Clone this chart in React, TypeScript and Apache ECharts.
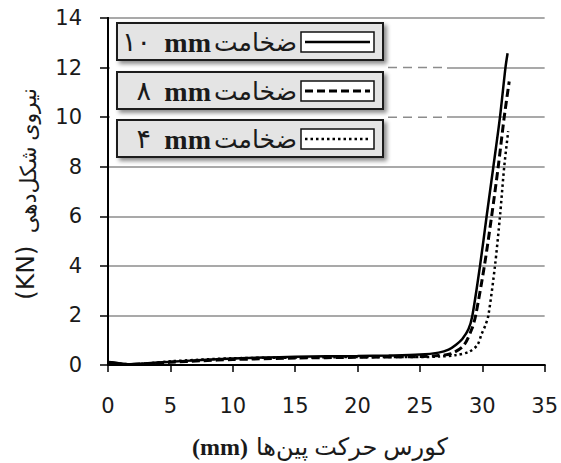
import React, { useEffect, useRef } from "react";
import * as echarts from "echarts";

// ---- data ----
const xTicks = [0, 5, 10, 15, 20, 25, 30, 35];
const yTicks = [0, 2, 4, 6, 8, 10, 12, 14];

const legendDigits = ["۱۰", "۸", "۴"]; // thickness, Persian digits
const legendWord = "ضخامت";
const legendUnit = "mm";
const xTitleFa = "کورس حرکت پین\u200cها";
const xTitleUnit = "(mm)";
const yTitleFa = "نیروی شکل\u200cدهی";
const yTitleUnit = "(KN)";

const thick10: number[][] = [
  [0, 0.12], [0.5, 0.1], [1.5, 0.03], [3, 0.06], [5, 0.13], [7.5, 0.2], [10, 0.26],
  [12.5, 0.3], [15, 0.33], [17.5, 0.35], [20, 0.36], [22.5, 0.38], [25, 0.42],
  [26.5, 0.5], [27.3, 0.62], [27.9, 0.82], [28.4, 1.05], [28.9, 1.45], [29.21, 2],
  [29.82, 4], [30.35, 6], [30.89, 8], [31.42, 10], [31.86, 12], [32.03, 12.58],
];

const thick8: number[][] = [
  [0, 0.1], [1.5, 0.02], [3, 0.05], [5, 0.11], [7.5, 0.17], [10, 0.22], [15, 0.28],
  [20, 0.31], [25, 0.34], [26.5, 0.38], [27.5, 0.46], [28.5, 0.78], [29.16, 1.45],
  [29.47, 2], [30.17, 4], [30.75, 6], [31.28, 8], [31.76, 10], [32.16, 11.44],
];

const thick4: number[][] = [
  [0, 0.08], [2, 0.03], [5, 0.15], [10, 0.27], [15, 0.3], [20, 0.32], [25, 0.32],
  [26.5, 0.34], [27.9, 0.4], [28.96, 0.54], [29.6, 0.8], [29.95, 1.25], [30.25, 1.6],
  [30.49, 2], [31.02, 4], [31.42, 6], [31.76, 8], [32.08, 9.43],
];

// ---- layout ----
const W = 561;
const H = 463;
const GRID_LEFT = 108;
const GRID_RIGHT = 15;
const GRID_TOP = 18;
const GRID_BOTTOM = 98;
const PLOT_H = H - GRID_TOP - GRID_BOTTOM;
const Y_MAX = 14;
const yPix = (v: number) => GRID_TOP + (1 - v / Y_MAX) * PLOT_H;

const NUM_FONT = "'DejaVu Sans', Verdana, sans-serif";
const FA_FONT = "'Liberation Serif', 'DejaVu Sans', serif";
const UNIT_FONT = "'Liberation Serif', 'Times New Roman', serif";
const TEXT_COLOR = "#1a1a1a";

const lineStyles = [
  { color: "#000", width: 2.5, type: "solid" as any },
  { color: "#000", width: 3, type: [8, 4] as any },
  { color: "#000", width: 2.5, type: [2.5, 3] as any },
];

export default function App() {
  const ref = useRef<HTMLDivElement>(null);

  useEffect(() => {
    if (!ref.current) return;
    const chart = echarts.init(ref.current, null, { renderer: "svg" });

    const legendTops = [23, 72, 120];
    const graphic: any[] = [
      {
        type: "rect",
        shape: { x: 110, y: 19.5, width: 337, height: 142 },
        style: { fill: "#fff" },
        z: 1,
      },
      ...[10, 12].map((v) => ({
        type: "line",
        shape: { x1: 388, y1: yPix(v), x2: 447, y2: yPix(v) },
        style: { stroke: "#8c8c8c", lineWidth: 1.5, lineDash: [9, 6] },
        z: 1,
      })),
      // x-axis title
      {
        type: "text",
        x: 448,
        y: 447,
        style: {
          text: xTitleFa,
          font: `24px ${FA_FONT}`,
          fill: TEXT_COLOR,
          align: "right",
          verticalAlign: "middle",
        },
        z: 5,
      },
      {
        type: "text",
        x: 248,
        y: 447,
        style: {
          text: xTitleUnit,
          font: `bold 24px ${UNIT_FONT}`,
          fill: TEXT_COLOR,
          align: "right",
          verticalAlign: "middle",
        },
        z: 5,
      },
      // y-axis title (rotated)
      {
        type: "text",
        x: 28,
        y: 88,
        rotation: Math.PI / 2,
        style: {
          text: yTitleFa,
          font: `22px ${FA_FONT}`,
          fill: TEXT_COLOR,
          align: "right",
          verticalAlign: "middle",
        },
        z: 5,
      },
      {
        type: "text",
        x: 25,
        y: 300,
        rotation: Math.PI / 2,
        style: {
          text: yTitleUnit,
          font: `25px ${NUM_FONT}`,
          fill: TEXT_COLOR,
          align: "left",
          verticalAlign: "middle",
        },
        z: 5,
      },
    ];

    legendTops.forEach((top, i) => {
      graphic.push({
        type: "rect",
        shape: { x: 117, y: top, width: 266, height: 37 },
        style: {
          fill: "#e4e4e4",
          stroke: "#1a1a1a",
          lineWidth: 2,
          shadowBlur: 4,
          shadowOffsetX: 3,
          shadowOffsetY: 3,
          shadowColor: "rgba(0,0,0,0.45)",
        },
        z: 10,
      });
      graphic.push({
        type: "rect",
        shape: { x: 301, y: top + 9, width: 73, height: 20 },
        style: { fill: "#fff", stroke: "#111", lineWidth: 1.5 },
        z: 11,
      });
      const ls = lineStyles[i];
      graphic.push({
        type: "line",
        shape: { x1: 305, y1: top + 19, x2: 370, y2: top + 19 },
        style: {
          stroke: ls.color,
          lineWidth: ls.width,
          lineDash: Array.isArray(ls.type) ? ls.type : null,
        },
        z: 12,
      });
      graphic.push({
        type: "text",
        x: 297,
        y: top + 19,
        style: {
          text: legendWord,
          font: `25px ${FA_FONT}`,
          fill: TEXT_COLOR,
          align: "right",
          verticalAlign: "middle",
        },
        z: 12,
      });
      graphic.push({
        type: "text",
        x: 211,
        y: top + 19,
        style: {
          text: legendUnit,
          font: `bold 28px ${UNIT_FONT}`,
          fill: TEXT_COLOR,
          align: "right",
          verticalAlign: "middle",
        },
        z: 12,
      });
      graphic.push({
        type: "text",
        x: 151,
        y: top + 19,
        style: {
          text: legendDigits[i],
          font: `27px ${FA_FONT}`,
          fill: TEXT_COLOR,
          align: "right",
          verticalAlign: "middle",
        },
        z: 12,
      });
    });

    const mkSeries = (name: string, data: number[][], i: number) => ({
      type: "line",
      name,
      data,
      showSymbol: false,
      symbol: "none",
      smooth: 0.3,
      lineStyle: lineStyles[i],
      z: 3,
    });

    chart.setOption({
      animation: false,
      backgroundColor: "#fff",
      grid: { left: GRID_LEFT, right: GRID_RIGHT, top: GRID_TOP, bottom: GRID_BOTTOM },
      xAxis: [
        {
          type: "value",
          min: xTicks[0],
          max: xTicks[xTicks.length - 1],
          interval: 5,
          axisLine: { lineStyle: { color: "#000", width: 2 } },
          axisTick: { length: 7, lineStyle: { color: "#000", width: 1.5 } },
          axisLabel: { fontSize: 21, fontFamily: NUM_FONT, color: TEXT_COLOR, margin: 30 },
          splitLine: { show: false },
        },
        {
          type: "value",
          position: "top",
          min: 0,
          max: 35,
          interval: 5,
          axisLine: { show: true, lineStyle: { color: "#000", width: 2 } },
          axisTick: { show: false },
          axisLabel: { show: false },
          splitLine: { show: false },
        },
      ],
      yAxis: [
        {
          type: "value",
          min: yTicks[0],
          max: yTicks[yTicks.length - 1],
          interval: 2,
          axisLine: { show: true, lineStyle: { color: "#000", width: 2 } },
          axisTick: { show: true, length: 8, lineStyle: { color: "#000", width: 1.5 } },
          axisLabel: { fontSize: 21, fontFamily: NUM_FONT, color: TEXT_COLOR, margin: 26 },
          splitLine: { show: true, lineStyle: { color: "#8c8c8c", width: 1.5 } },
        },
        {
          type: "value",
          position: "right",
          min: 0,
          max: 14,
          interval: 2,
          axisLine: { show: true, lineStyle: { color: "#000", width: 2 } },
          axisTick: { show: false },
          axisLabel: { show: false },
          splitLine: { show: false },
        },
      ],
      graphic,
      series: [
        mkSeries("ضخامت ۱۰ mm", thick10, 0),
        mkSeries("ضخامت ۸ mm", thick8, 1),
        mkSeries("ضخامت ۴ mm", thick4, 2),
      ],
    });

    return () => chart.dispose();
  }, []);

  return (
    <div
      ref={ref}
      style={{ position: "absolute", left: 0, top: 0, width: W, height: H, overflow: "hidden" }}
    />
  );
}
